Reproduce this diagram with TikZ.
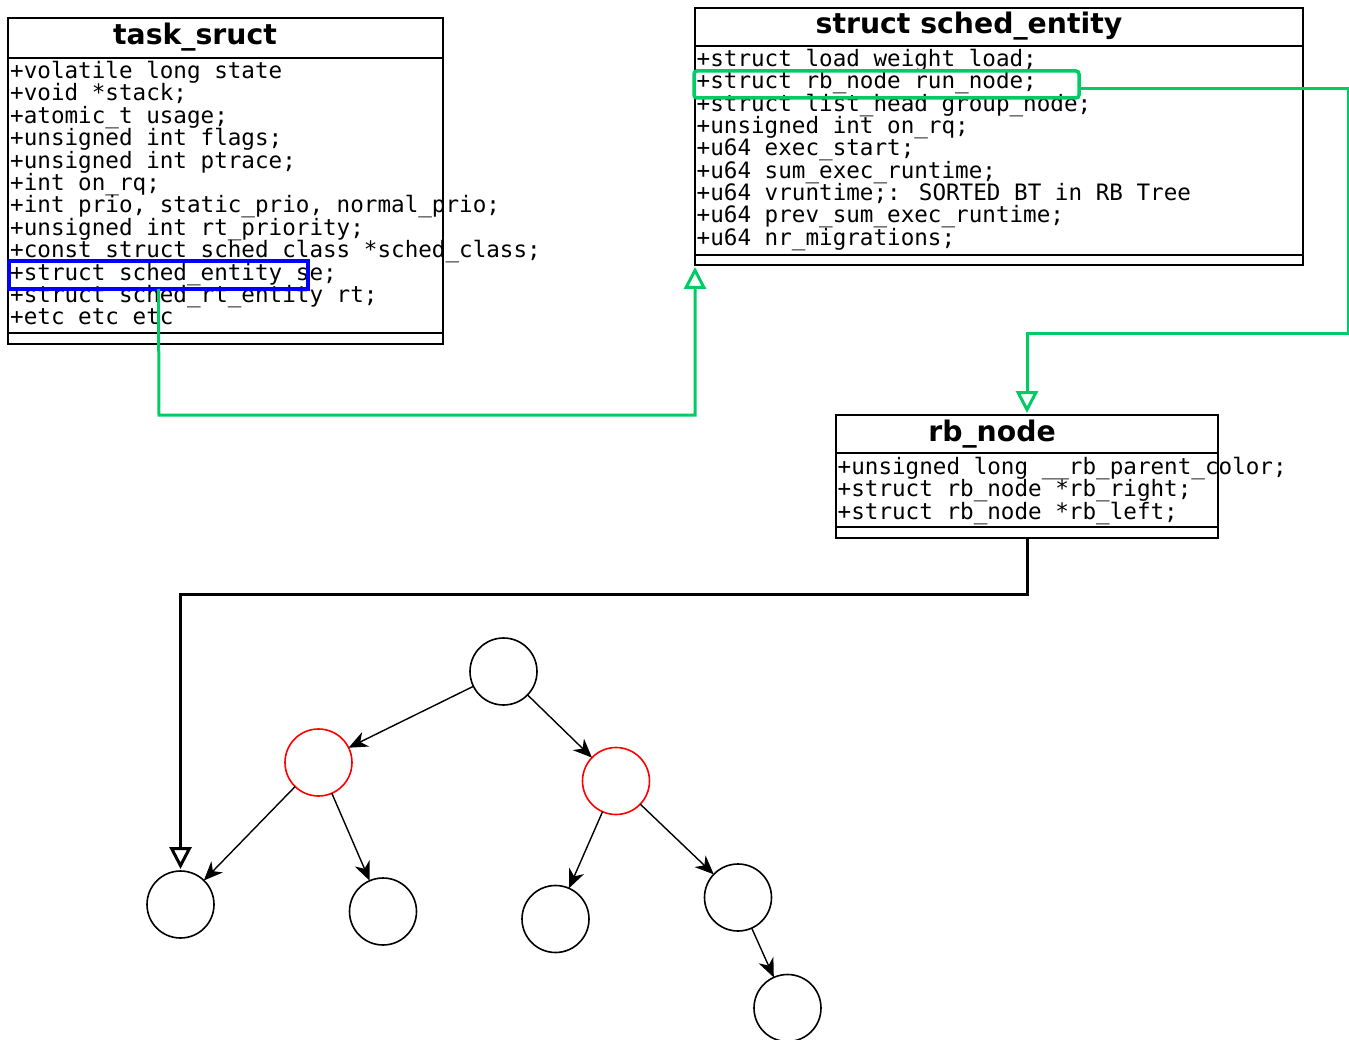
\documentclass[tikz,border=0pt]{standalone}
\usepackage{fontspec}
\setmainfont{DejaVu Sans}
\newfontfamily\monof{DejaVu Sans Mono}
\usetikzlibrary{arrows.meta}
\definecolor{hlgreen}{RGB}{0,204,102}
\begin{document}
\begin{tikzpicture}[x=1pt,y=-1pt,
  umlbox/.style={draw,line width=1.5pt,anchor=north west,inner sep=0pt,outer sep=0pt},
  sepline/.style={line width=1.5pt},
  attr/.style={anchor=base west,inner sep=0pt,font=\monof\fontsize{22.6}{22.6}\selectfont},
  ttl/.style={anchor=base,inner sep=0pt,font=\bfseries\fontsize{28.3}{30}\selectfont},
  hlbox/.style={anchor=north west,inner sep=0pt,outer sep=0pt},
  circ/.style={circle,draw,line width=1.6pt,minimum size=67pt,inner sep=0pt,outer sep=0pt},
  redcirc/.style={circ,draw=red},
  tedge/.style={line width=1.4pt,-{Stealth[length=19pt,width=16pt,inset=6pt]}},
  gconn/.style={draw=hlgreen,line width=3pt,-{Triangle[open,length=22pt,width=22pt]},shorten >=2pt},
  bconn/.style={draw=black,line width=3pt,-{Triangle[open,length=22pt,width=22pt]},shorten >=2pt}
]
\useasboundingbox (0,0) rectangle (1349,1040);

% ---------- task_sruct ----------
\node[umlbox,minimum width=435pt,minimum height=326pt] (tsbox) at (8,18) {};
\draw[sepline] (tsbox.west |- 0,58) -- (tsbox.east |- 0,58);
\draw[sepline] (tsbox.west |- 0,333) -- (tsbox.east |- 0,333);
\node[ttl] (tstitle) at (195,45) {task\_sruct};
\foreach \t [count=\i] in {
  {+volatile long state},
  {+void *stack;},
  {+atomic\_t usage;},
  {+unsigned int flags;},
  {+unsigned int ptrace;},
  {+int on\_rq;},
  {+int prio, static\_prio, normal\_prio;},
  {+unsigned int rt\_priority;},
  {+const struct sched\_class *sched\_class;},
  {+struct sched\_entity se;},
  {+struct sched\_rt\_entity rt;},
  {+etc etc etc}}{
  \node[attr] (ts\i) at (10,{78.5+22.4*(\i-1)}) {\t};
}

% ---------- struct sched_entity ----------
\node[umlbox,minimum width=608pt,minimum height=257pt] (sebox) at (695,8) {};
\draw[sepline] (sebox.west |- 0,46) -- (sebox.east |- 0,46);
\draw[sepline] (sebox.west |- 0,255) -- (sebox.east |- 0,255);
\node[ttl] (setitle) at (969,33.5) {struct sched\_entity};
\foreach \t [count=\i] in {
  {+struct load\_weight load;},
  {+struct rb\_node run\_node;},
  {+struct list\_head group\_node;},
  {+unsigned int on\_rq;},
  {+u64 exec\_start;},
  {+u64 sum\_exec\_runtime;},
  {+u64 vruntime;: SORTED BT in RB Tree},
  {+u64 prev\_sum\_exec\_runtime;},
  {+u64 nr\_migrations;}}{
  \node[attr] (se\i) at (696.5,{66.7+22.3*(\i-1)}) {\t};
}

% ---------- rb_node ----------
\node[umlbox,minimum width=382pt,minimum height=123pt] (rbbox) at (836,415) {};
\draw[sepline] (rbbox.west |- 0,453) -- (rbbox.east |- 0,453);
\draw[sepline] (rbbox.west |- 0,527) -- (rbbox.east |- 0,527);
\node[ttl] (rbtitle) at (992,441.7) {rb\_node};
\foreach \t [count=\i] in {
  {+unsigned long \_\_rb\_parent\_color;},
  {+struct rb\_node *rb\_right;},
  {+struct rb\_node *rb\_left;}}{
  \node[attr] (rb\i) at (837.5,{474+22.5*(\i-1)}) {\t};
}

% ---------- highlights ----------
\node[hlbox,draw=blue,line width=4pt,minimum width=299pt,minimum height=28pt] (sehl) at (9,261) {};
\node[hlbox,draw=hlgreen,line width=3.5pt,rounded corners=3pt,minimum width=385pt,minimum height=27pt] (rnhl) at (694,71) {};

% ---------- tree ----------
\node[circ] (root) at (503.5,671.5) {};
\node[redcirc] (rl) at (318.5,762.5) {};
\node[redcirc] (rr) at (616,781) {};
\node[circ] (l1) at (180.5,904.5) {};
\node[circ] (l2) at (383,911.5) {};
\node[circ] (l3) at (555.5,919) {};
\node[circ] (l4) at (738,897.5) {};
\node[circ] (l5) at (787.5,1008) {};

\draw[tedge] (root) -- (rl);
\draw[tedge] (root) -- (rr);
\draw[tedge] (rl) -- (l1);
\draw[tedge] (rl) -- (l2);
\draw[tedge] (rr) -- (l3);
\draw[tedge] (rr) -- (l4);
\draw[tedge] (l4) -- (l5);

% ---------- connectors ----------
\coordinate (g1) at (159,415);
\draw[gconn] (sehl.south) -- (g1) -| (sebox.south west);
\coordinate (g2) at (1348,334);
\draw[gconn] ([yshift=-4.5pt]rnhl.east) -| (g2) -| (rbbox.north);
\coordinate (b1) at (1027,594);
\draw[bconn] (rbbox.south) -- (b1) -| (l1.north);
\end{tikzpicture}
\end{document}
